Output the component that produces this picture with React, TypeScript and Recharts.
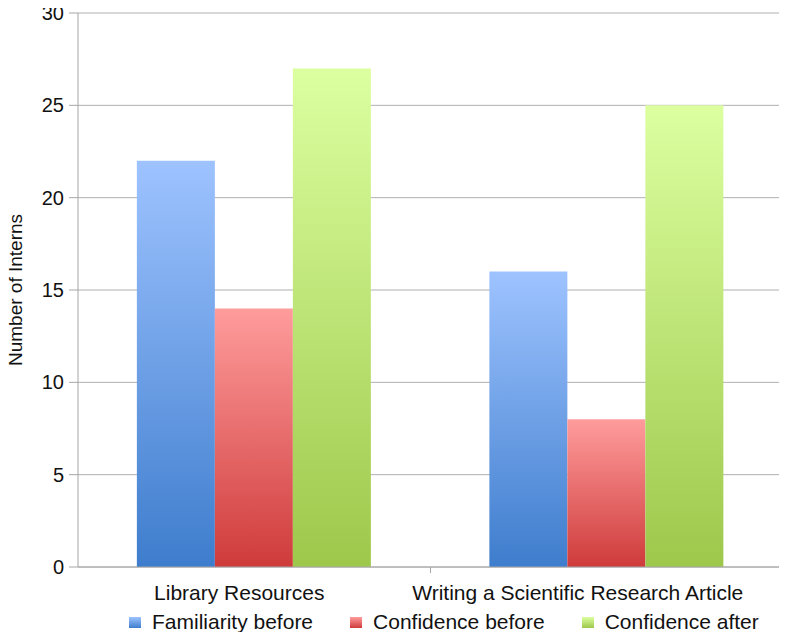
import { BarChart, Bar, XAxis, YAxis, CartesianGrid, Legend } from 'recharts';

const categories = ['Library Resources', 'Writing a Scientific Research Article'];
const familiarityBefore = [22, 16];
const confidenceBefore = [14, 8];
const confidenceAfter = [27, 25];
const yTicks = [0, 5, 10, 15, 20, 25, 30];

const data = categories.map((name, i) => ({
  name,
  familiarityBefore: familiarityBefore[i],
  confidenceBefore: confidenceBefore[i],
  confidenceAfter: confidenceAfter[i],
}));

const series = [
  { key: 'familiarityBefore', label: 'Familiarity before', id: 'gBlue', top: '#9ec3ff', bottom: '#3e7dcd' },
  { key: 'confidenceBefore', label: 'Confidence before', id: 'gRed', top: '#ff9c9c', bottom: '#cf3b3b' },
  { key: 'confidenceAfter', label: 'Confidence after', id: 'gGreen', top: '#dcffa0', bottom: '#9dc84b' },
];

const FONT = '"Liberation Sans", Arial, sans-serif';
// labels in the source sit a little left of the category centre
const LABEL_DX = [-15, -29];

function CategoryTick(props: any) {
  const { x, y, payload, index } = props;
  const half = payload && payload.offset ? payload.offset : 176;
  return (
    <g>
      <line x1={x + half} y1={y - 8} x2={x + half} y2={y - 2} stroke="#a6a6a6" />
      <text
        x={x + (LABEL_DX[index] || 0)}
        y={y + 10}
        dy="0.71em"
        textAnchor="middle"
        fontSize={21}
        fill="#111"
        fontFamily={FONT}
      >
        {payload.value}
      </text>
    </g>
  );
}

function YLabel(props: any) {
  const vb = props.viewBox || {};
  const cy = vb.y + vb.height / 2;
  return (
    <text
      x={15}
      y={cy}
      transform={`rotate(-90, 15, ${cy})`}
      textAnchor="middle"
      dominantBaseline="central"
      fontSize={19}
      fill="#111"
      fontFamily={FONT}
    >
      Number of Interns
    </text>
  );
}

function LegendContent() {
  return (
    <div
      style={{
        display: 'flex',
        paddingLeft: 129,
        paddingTop: 3,
        gap: 37,
        fontFamily: FONT,
        fontSize: 21,
        color: '#111',
      }}
    >
      {series.map((s) => (
        <div key={s.key} style={{ display: 'flex', alignItems: 'center' }}>
          <span
            style={{
              display: 'inline-block',
              width: 12,
              height: 11,
              marginRight: 11,
              background: `linear-gradient(${s.top}, ${s.bottom})`,
            }}
          />
          <span>{s.label}</span>
        </div>
      ))}
    </div>
  );
}

export default function App() {
  return (
    <div style={{ margin: -8, background: '#fff', width: 787, height: 640 }}>
      <BarChart
        width={787}
        height={640}
        data={data}
        margin={{ top: 13, right: 4, left: 0, bottom: 0 }}
        barCategoryGap="16.7%"
        barGap={0}
      >
        <defs>
          {series.map((s) => (
            <linearGradient key={s.id} id={s.id} x1="0" y1="0" x2="0" y2="1">
              <stop offset="0%" stopColor={s.top} />
              <stop offset="100%" stopColor={s.bottom} />
            </linearGradient>
          ))}
        </defs>
        <CartesianGrid vertical={false} stroke="#b0b0b0" />
        <XAxis
          dataKey="name"
          height={40}
          tickLine={false}
          axisLine={{ stroke: '#a6a6a6' }}
          tick={<CategoryTick />}
          interval={0}
        />
        <YAxis
          width={78}
          domain={[0, 30]}
          ticks={yTicks}
          interval={0}
          tickSize={9}
          tickMargin={5}
          tickLine={{ stroke: '#a6a6a6' }}
          axisLine={{ stroke: '#a6a6a6' }}
          tick={{ fontSize: 20, fill: '#111', fontFamily: FONT }}
          label={<YLabel />}
        />
        <Legend verticalAlign="bottom" height={33} content={<LegendContent />} />
        {series.map((s) => (
          <Bar key={s.key} dataKey={s.key} name={s.label} fill={`url(#${s.id})`} isAnimationActive={false} />
        ))}
      </BarChart>
    </div>
  );
}
